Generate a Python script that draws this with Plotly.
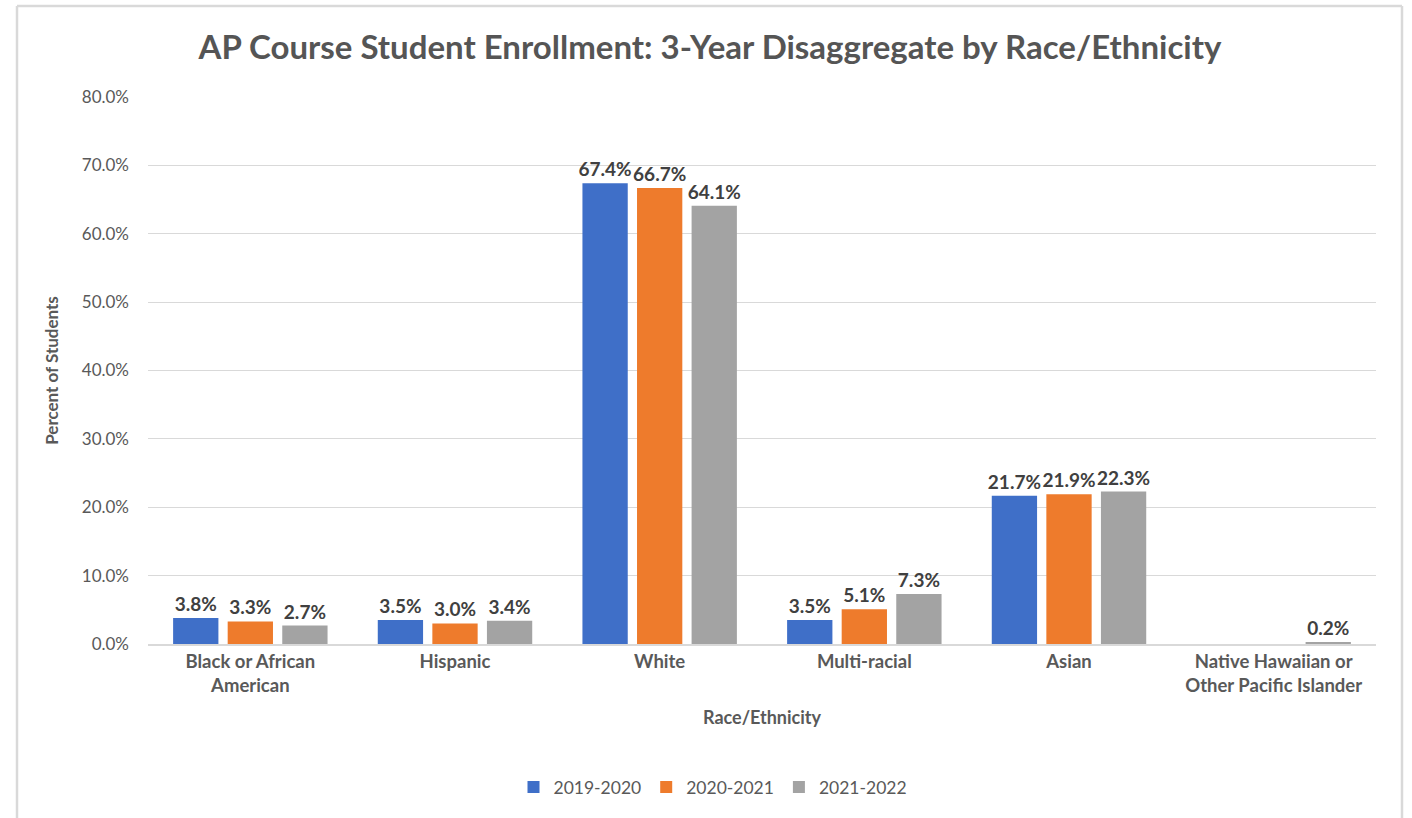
import plotly.graph_objects as go

categories = ["Black or African<br>American", "Hispanic", "White", "Multi-racial", "Asian",
              "Native Hawaiian or<br>Other Pacific Islander"]
series_names = ["2019-2020", "2020-2021", "2021-2022"]
v2019 = [3.8, 3.5, 67.4, 3.5, 21.7, None]
v2020 = [3.3, 3.0, 66.7, 5.1, 21.9, None]
v2021 = [2.7, 3.4, 64.1, 7.3, 22.3, 0.2]
colors = ["#3f6fc8", "#ee7b2c", "#a3a3a3"]
y_ticks = [0, 10, 20, 30, 40, 50, 60, 70, 80]
y_tick_text = [f"{v:.1f}%" for v in y_ticks]

FONT = "Lato, 'Open Sans', sans-serif"

fig = go.Figure()
for name, vals, col in zip(series_names, [v2019, v2020, v2021], colors):
    fig.add_trace(go.Bar(
        x=categories, y=vals, name=name,
        marker=dict(color=col, line=dict(width=0)),
        text=[("" if v is None else f"{v:.1f}%") for v in vals],
        textposition="outside",
        constraintext="none",
        textfont=dict(family=FONT, size=19, color="#404040", weight="bold"),
        cliponaxis=False,
    ))

L, R, T, B = 148, 36, 97, 174
W, H = 1412, 818
pw, ph = W - L - R, H - T - B

fig.update_layout(
    width=W, height=H,
    margin=dict(l=L, r=R, t=T, b=B),
    paper_bgcolor="white", plot_bgcolor="white",
    barmode="group", bargap=0.2, bargroupgap=0.17,
    title=dict(text="AP Course Student Enrollment: 3-Year Disaggregate by Race/Ethnicity",
               x=710 / W, xanchor="center", y=1 - 47 / H, yanchor="middle",
               font=dict(family=FONT, size=33, color="#555555", weight="bold")),
    legend=dict(orientation="h", x=(713 - L) / pw, xanchor="center",
                y=(644 - 787) / ph, yanchor="middle",
                font=dict(family=FONT, size=17.5, color="#595959"),
                traceorder="normal", itemwidth=30),
    font=dict(family=FONT, color="#595959"),
    uniformtext=dict(mode=False),
)
fig.update_yaxes(
    range=[0, 80], tickvals=y_ticks, ticktext=y_tick_text,
    showgrid=True, gridcolor="#d9d9d9", gridwidth=1.3, zeroline=False,
    showline=False, ticks="", ticklabelstandoff=18,
    tickfont=dict(family=FONT, size=17, color="#595959"),
    title=dict(text="Percent of Students", standoff=18,
               font=dict(family=FONT, size=17, color="#595959", weight="bold")),
)
fig.update_xaxes(
    showline=True, linecolor="#d9d9d9", linewidth=1.5, ticks="",
    tickfont=dict(family=FONT, size=18.5, color="#595959", weight="bold"),
    title=dict(text="Race/Ethnicity", standoff=16,
               font=dict(family=FONT, size=18, color="#595959", weight="bold")),
)

# outer chart border (light gray), open at bottom
bx0 = (17 - L) / pw
bx1 = (1402 - L) / pw
by1 = (H - B - 6) / ph
by0 = (H - B - H - 10) / ph
fig.add_shape(type="line", xref="paper", yref="paper", x0=bx0, x1=bx0, y0=by0, y1=by1,
              line=dict(color="#d9d9d9", width=2.5))
fig.add_shape(type="line", xref="paper", yref="paper", x0=bx0, x1=bx1, y0=by1, y1=by1,
              line=dict(color="#d9d9d9", width=2.5))
fig.add_shape(type="line", xref="paper", yref="paper", x0=bx1, x1=bx1, y0=by0, y1=by1,
              line=dict(color="#d9d9d9", width=2.5))

fig.write_html("out.html")
